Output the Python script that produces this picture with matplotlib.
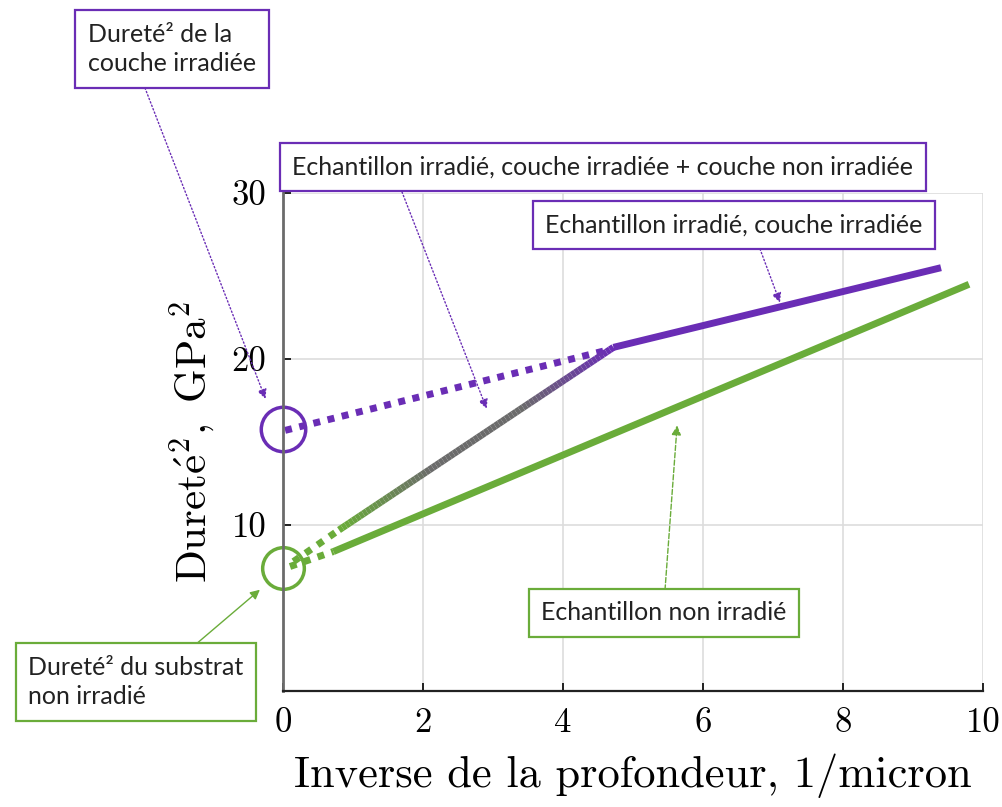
import matplotlib
matplotlib.use("Agg")
import matplotlib.pyplot as plt
import numpy as np
from matplotlib.collections import LineCollection
from matplotlib.colors import LinearSegmentedColormap

# data
purple_x = [4.72, 9.4]          # irradiated, irradiated layer (solid)
purple_y = [20.7, 25.5]
purple_dot_x = [0.03, 4.6]      # extrapolation to 0
purple_dot_y = [15.7, 20.5]
mixed_x = [0.8, 4.72]           # irradiated layer + non irradiated layer
mixed_y = [9.7, 20.7]
mixed_dot_x = [0.15, 0.8]
mixed_dot_y = [7.8, 9.7]
green_x = [0.72, 9.8]           # non irradiated sample
green_y = [8.4, 24.5]
green_dot_x = [0.1, 0.72]
green_dot_y = [7.5, 8.4]
circle_x = [0.0, 0.0]
circle_y = [15.8, 7.4]

xticks = [0, 2, 4, 6, 8, 10]
yticks = [10, 20, 30]

purple = "#6a2db5"
green = "#6aac3a"
gray = "#6b6b6b"

plt.rcParams['mathtext.fontset'] = 'cm'
fig = plt.figure(figsize=(10.03, 8.07), dpi=100)
W, H = 1003, 807
ax = fig.add_axes([283 / W, 1 - 691 / H, 700 / W, 498 / H])
ax.set_xlim(0, 10)
ax.set_ylim(0, 30)

# grid and spines
ax.grid(True, color="#dddddd", lw=1.2)
ax.set_axisbelow(True)
for s in ["top", "right"]:
    ax.spines[s].set_visible(False)
ax.spines["left"].set_color(gray)
ax.spines["left"].set_linewidth(2)
ax.spines["bottom"].set_color("#222222")
ax.spines["bottom"].set_linewidth(1.6)
ax.set_xticks(xticks)
ax.set_yticks(yticks)
ax.tick_params(direction="in", length=6, width=1.2, labelsize=25, pad=12)
for lab in ax.get_xticklabels() + ax.get_yticklabels():
    lab.set_fontfamily("cmr10")

ax.set_xlabel("Inverse de la profondeur, 1/micron", fontfamily="cmr10",
              fontsize=32, labelpad=10)
ax.set_ylabel(r"$\mathrm{Duret\'{e}^{2},\ GPa^{2}}$", fontsize=31, labelpad=10)

lw = 5
ax.plot(purple_x, purple_y, color=purple, lw=lw, solid_capstyle="butt")
ax.plot(purple_dot_x, purple_dot_y, color=purple, lw=lw, ls=(0, (1, 1.1)))
ax.plot(green_x, green_y, color=green, lw=lw, solid_capstyle="butt")
ax.plot(green_dot_x, green_dot_y, color=green, lw=lw, ls=(0, (1, 1.1)))
ax.plot(mixed_dot_x, mixed_dot_y, color=green, lw=lw, ls=(0, (1, 1.1)))

# mixed line drawn with a green -> gray -> purple gradient
cmap = LinearSegmentedColormap.from_list("mix", [green, gray, gray, purple])
t = np.linspace(0, 1, 80)
xs = mixed_x[0] + t * (mixed_x[1] - mixed_x[0])
ys = mixed_y[0] + t * (mixed_y[1] - mixed_y[0])
pts = np.column_stack([xs, ys]).reshape(-1, 1, 2)
segs = np.concatenate([pts[:-1], pts[1:]], axis=1)
lc = LineCollection(segs, cmap=cmap, linewidth=lw, capstyle="butt")
lc.set_array(t[:-1])
ax.add_collection(lc)

# circles at the intercepts
ax.plot(circle_x[0], circle_y[0], "o", ms=32, mfc="none", mec=purple, mew=2.5, clip_on=False)
ax.plot(circle_x[1], circle_y[1], "o", ms=30, mfc="none", mec=green, mew=2.5, clip_on=False)

# annotation boxes
boxes = [
    ("Dureté² de la\ncouche irradiée", (172, 49), purple),
    ("Echantillon irradié, couche irradiée + couche non irradiée", (603, 167), purple),
    ("Echantillon irradié, couche irradiée", (734, 225), purple),
    ("Echantillon non irradié", (664, 613), green),
    ("Dureté² du substrat\nnon irradié", (136, 682), green),
]
for txt, (px, py), col in boxes:
    fig.text(px / W, 1 - py / H, txt, ha="center", va="center", fontsize=18,
             family="Lato", color="#222222", linespacing=1.35,
             multialignment="left",
             bbox=dict(boxstyle="square,pad=0.5", fc="white", ec=col, lw=1.6))

arrows = [
    ((145, 88), (-0.25, 17.6), purple, ":"),
    ((402, 192), (2.91, 17.0), purple, ":"),
    ((760, 249), (7.1, 23.4), purple, ":"),
    ((665, 590), (5.63, 16.0), green, "--"),
    ((195, 645), (-0.33, 6.1), green, "-"),
]
for (sx, sy), tgt, col, ls in arrows:
    ax.annotate("", xy=tgt, xycoords="data", xytext=(sx, H - sy),
                textcoords="figure pixels", annotation_clip=False,
                arrowprops=dict(arrowstyle="-|>", color=col, lw=1, ls=ls,
                                mutation_scale=14, shrinkA=0, shrinkB=0))

fig.savefig("out.png", dpi=100)
